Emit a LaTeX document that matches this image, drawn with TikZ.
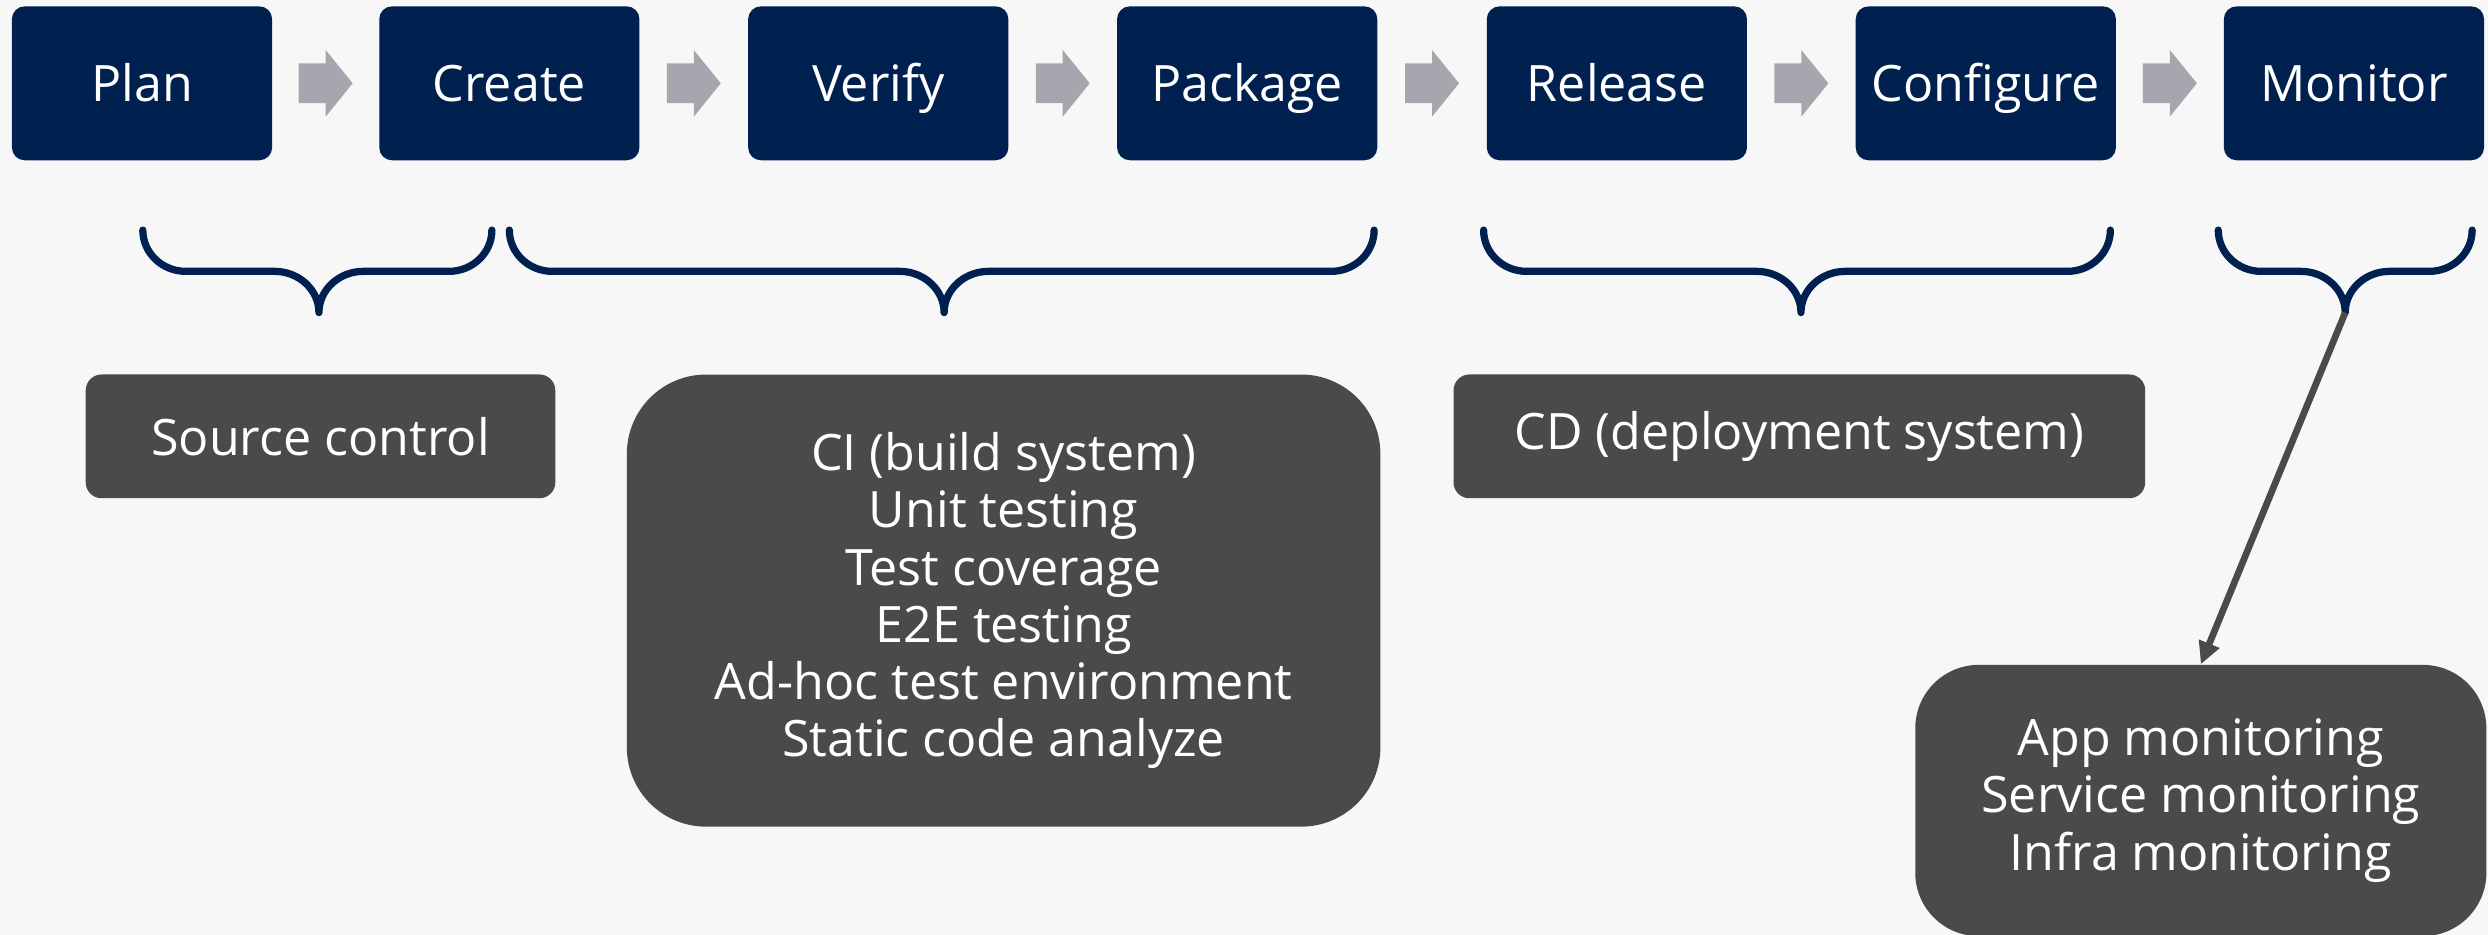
\documentclass[tikz,border=0pt]{standalone}
\usepackage{fontspec}
\setmainfont{Open Sans}
\usetikzlibrary{arrows.meta,calc}

\definecolor{navy}{HTML}{002050}
\definecolor{slate}{HTML}{4A4A4A}
\definecolor{chevgray}{HTML}{A6A6AE}
\definecolor{paper}{HTML}{F7F7F7}

\tikzset{
  stage/.style={fill=navy, text=white, rounded corners=0.16cm,
    minimum width=3.28cm, minimum height=1.94cm, inner sep=0pt,
    text height=12.85pt, text depth=0pt,
    font=\fontsize{18}{21}\selectfont},
  toolbox/.style={fill=slate, text=white, inner sep=0pt, align=center,
    font=\fontsize{18}{20.5}\selectfont},
  bracket/.style={draw=navy, line width=2.6pt, line cap=round, line join=round},
  pointer/.style={draw=slate, line width=2.4pt,
    -{Triangle[length=8pt,width=7.5pt]}},
  chev/.pic={\fill[chevgray] (-17,-12.5) -- (0,-12.5) -- (0,-21) -- (17,0)
    -- (0,21) -- (0,12.5) -- (-17,12.5) -- cycle;}
}

\begin{document}
\begin{tikzpicture}[x=0.02cm, y=-0.02cm]
  % page background
  \fill[paper] (0,0) rectangle (1568,589);
  \useasboundingbox (0,0) rectangle (1568,589);

  % pipeline stages
  \node[stage] (plan)      at (89.5,52.5)   {Plan};
  \node[stage] (create)    at (321,52.5)    {Create};
  \node[stage] (verify)    at (553.5,52.5)  {Verify};
  \node[stage] (package)   at (786,52.5)    {Package};
  \node[stage] (release)   at (1019,52.5)   {Release};
  \node[stage] (configure) at (1251.5,52.5) {Configure};
  \node[stage] (monitor)   at (1483.5,52.5) {Monitor};

  % block arrows between stages
  \foreach \a/\b in {plan/create, create/verify, verify/package,
                     package/release, release/configure, configure/monitor}
    \pic at ($(\a.east)!0.5!(\b.west)$) {chev};

  % tool boxes
  \node[toolbox, minimum width=5.92cm, minimum height=1.56cm,
        rounded corners=0.2cm] (src) at (202,275) {Source control};
  \node[toolbox, minimum width=9.5cm, minimum height=5.7cm,
        rounded corners=1cm] (ci) at (632.5,378.5)
        {CI (build system)\\Unit testing\\Test coverage\\E2E testing\\
         Ad-hoc test environment\\Static code analyze};
  \node[toolbox, minimum width=8.72cm, minimum height=1.56cm,
        rounded corners=0.2cm] (cd) at (1134,275) {CD (deployment system)};
  \node[toolbox, minimum width=7.2cm, minimum height=3.42cm,
        rounded corners=0.8cm] (mon) at (1387,504.5)
        {App monitoring\\Service monitoring\\Infra monitoring};

  % braces grouping the stages
  \coordinate (tipA) at (201,197);
  \coordinate (tipB) at (595,197);
  \coordinate (tipC) at (1135,197);
  \coordinate (tipD) at (1478,197);
  \foreach \l/\m/\r in {90/201/310, 321/595/866, 935/1135/1330, 1398/1478/1558}
    \draw[bracket] (\l,145) .. controls (\l,159.3) and (\l+12.1,171) .. (\l+27,171)
      -- (\m-28,171) .. controls (\m-12.6,171) and (\m,182.7) .. (\m,197)
      .. controls (\m,182.7) and (\m+12.6,171) .. (\m+28,171)
      -- (\r-27,171) .. controls (\r-12.1,171) and (\r,159.3) .. (\r,145);

  % link from the monitoring brace to its tools
  \draw[pointer] (tipD) -- (mon.north);
\end{tikzpicture}
\end{document}
